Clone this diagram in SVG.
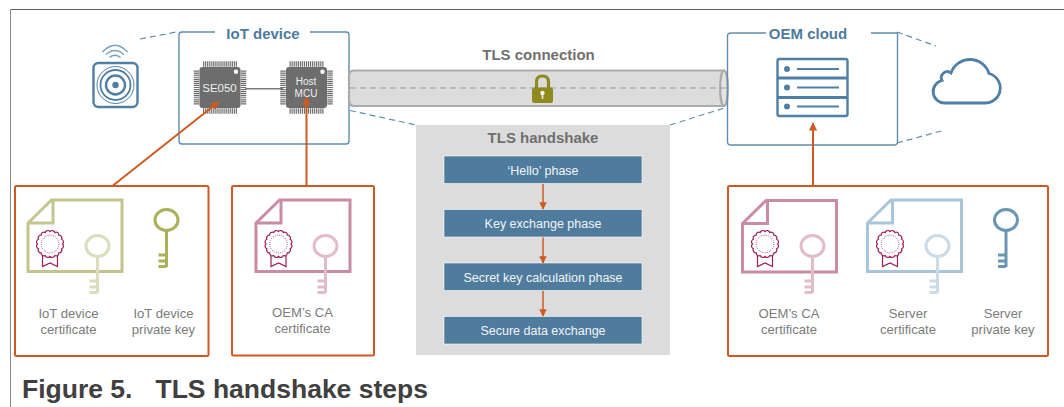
<svg xmlns="http://www.w3.org/2000/svg" width="1064" height="407" viewBox="0 0 1064 407">
<style>
text{font-family:"Liberation Sans",Arial,sans-serif}
.h{font-size:15px;font-weight:700;text-anchor:middle}
.blue{fill:#4f7b9d}
.gray{fill:#6f6f6f}
.lab{font-size:13.100px;fill:#7b7b7b;text-anchor:middle}
.step{font-size:12.500px;fill:#f2f5f8;text-anchor:middle}
.stepbox{fill:#4f7b9d;stroke:#fff;stroke-width:.6}
.ob{fill:#fff;stroke:#cf5a21;stroke-width:2}
.box{fill:none;stroke:#5f8dab;stroke-width:1.400}
.dash{fill:none;stroke:#5f8dab;stroke-width:1.200;stroke-dasharray:6 4}
.conn{fill:none;stroke:#cf5a21;stroke-width:2}
.thin{stroke-width:1.500}
.chip{fill:#6d6d6d}
.pin{stroke:#6d6d6d;stroke-width:5.500;stroke-dasharray:1.200 .85;fill:none}
.ct{fill:#f0f0f0;text-anchor:middle}
.cap{font-size:26.500px;font-weight:700;fill:#404040}
</style>
<defs>
<marker id="ah" viewBox="0 0 10 10" refX="9" refY="5" markerWidth="4.200" markerHeight="4.200" orient="auto"><path d="M0 0L10 5L0 10Z" fill="#cf5a21"/></marker>
<marker id="ahs" viewBox="0 0 10 10" refX="9" refY="5" markerWidth="5" markerHeight="5" orient="auto"><path d="M0 0L10 5L0 10Z" fill="#cf5a21"/></marker>
<g id="key" fill="none" stroke="currentColor" stroke-width="3">
<ellipse cx="0" cy="0" rx="11.500" ry="10.500"/>
<path d="M0 10.500V47M-8 35H0M-8 41H0M-8 46.500H0"/>
</g>
<g id="seal" fill="none" stroke="#9c1f57">
<path stroke-width="1.200" fill="#fff" d="M12.500 0A2.800 2.800 0 0 1 11.550 4.780A2.800 2.800 0 0 1 8.840 8.840A2.800 2.800 0 0 1 4.780 11.550A2.800 2.800 0 0 1 0 12.500A2.800 2.800 0 0 1 -4.780 11.550A2.800 2.800 0 0 1 -8.840 8.840A2.800 2.800 0 0 1 -11.550 4.780A2.800 2.800 0 0 1 -12.500 0A2.800 2.800 0 0 1 -11.550 -4.780A2.800 2.800 0 0 1 -8.840 -8.840A2.800 2.800 0 0 1 -4.780 -11.550A2.800 2.800 0 0 1 0 -12.500A2.800 2.800 0 0 1 4.780 -11.550A2.800 2.800 0 0 1 8.840 -8.840A2.800 2.800 0 0 1 11.550 -4.780A2.800 2.800 0 0 1 12.500 0Z"/>
<circle r="8.800" stroke-width=".8" stroke-dasharray="1 1.200"/>
<path stroke-width="1.200" d="M-7.500 12V22.500L0 19L7.500 22.500V12"/>
</g>
<g id="doc" fill="none" stroke="currentColor" stroke-width="3">
<path d="M0 23L23.500 0H94V71.500H0Z"/>
<path d="M0 23H25V0"/>
</g>
<g id="chip">
<rect x="-20.500" y="-20.500" width="41" height="41" rx="3" class="chip"/>
<path class="pin" d="M-17 -23.500H17M-17 23.500H17M-23.500 -17V17M23.500 -17V17"/>
<circle cx="16" cy="-15.800" r="2.200" fill="#fff"/>
</g>
</defs>
<rect width="1064" height="407" fill="#fff"/>
<g id="frame"><path d="M10.500 407V9.500" fill="none" stroke="#8a8a8a" stroke-width="1"/><path d="M10.500 9.500H1064" stroke="#5f5f5f" stroke-width="1"/></g>

<g id="dashed-guides">
<path class="dash" d="M140 39L179 31.500M350 110.500L416 125M670 125L726 107.500M897 32L936 46M897 143L945 130"/>
</g>

<g id="iot-icon" fill="none" stroke="#4f7fa5">
<rect x="93.500" y="63" width="44" height="44" rx="5" stroke-width="2.400"/>
<circle cx="115.500" cy="85" r="18.500" stroke-width="1"/>
<circle cx="115.500" cy="85" r="15" stroke-width="1.800"/>
<circle cx="115.500" cy="85" r="9.500" stroke-width="2.400"/>
<circle cx="115.500" cy="85" r="3.200" fill="#4f7fa5" stroke="none"/>
<path d="M102.500 52Q115 38.500 127.500 52" stroke-width="1.500" opacity=".75"/>
<path d="M106 54.500Q115 46.500 124 54.500" stroke-width="1.500" opacity=".75"/>
<path d="M109.500 57.500Q115 53 120.500 57.500" stroke-width="1.500" opacity=".75"/>
</g>

<g id="iot-device">
<path class="box" d="M215 32H182Q179 32 179 35V141Q179 144 182 144H346Q349 144 349 141V35Q349 32 346 32H310"/>
<text class="h blue" x="263" y="38.500">IoT device</text>
<path d="M245 88.700H283" stroke="#7d7d7d" stroke-width="1.400"/>
<g id="se050"><use href="#chip" x="220" y="87.500"/><text class="ct" x="219.500" y="92" font-size="11.500">SE050</text></g>
<g id="host-mcu"><use href="#chip" x="306.500" y="87.500"/><text class="ct" x="306" y="84.500" font-size="10">Host</text><text class="ct" x="306" y="96.700" font-size="10">MCU</text></g>
</g>

<g id="tls-connection">
<text class="h gray" x="538.500" y="60">TLS connection</text>
<path d="M354 70.500H724V106H354Q349 106 349 100V76Q349 70.500 354 70.500Z" fill="#dcdcdc" stroke="#ababab" stroke-width="2.200"/>
<ellipse cx="724" cy="88.300" rx="3.800" ry="17.800" fill="#e4e4e4" stroke="#ababab" stroke-width="2.200"/>
<path d="M350 88H728" fill="none" stroke="#8d9cab" stroke-width="1" stroke-dasharray="6 4"/>
<path d="M536.500 90V82Q536.500 76 542.500 76Q548.500 76 548.500 82V90" fill="none" stroke="#8f8a1e" stroke-width="3.200"/>
<rect x="532" y="87.500" width="21" height="15.500" rx="2.500" fill="#8f8a1e"/>
<circle cx="542.500" cy="93" r="2.200" fill="#f2f2f2"/><path d="M542.500 93V99" stroke="#f2f2f2" stroke-width="1.500"/>
</g>

<g id="oem-cloud">
<path class="box" d="M766 33H731Q727.500 33 727.500 36V142Q727.500 145 731 145H894Q897.500 145 897.500 142V33H871"/>
<text class="h blue" x="808" y="38.500">OEM cloud</text>
<g id="server" fill="none" stroke="#4f7fa5">
<rect x="777.500" y="59" width="70" height="57" rx="2" stroke-width="2.400"/>
<path d="M777.500 78H847.500M777.500 97.500H847.500" stroke-width="2.800"/>
<path d="M797 69H839M797 87.500H839M797 106.500H839" stroke-width="2.200"/>
<circle cx="787" cy="69" r="3" fill="#4f7fa5" stroke="none"/><circle cx="787" cy="87.500" r="3" fill="#4f7fa5" stroke="none"/><circle cx="787" cy="106.500" r="3" fill="#4f7fa5" stroke="none"/>
</g>
</g>

<g id="cloud-icon">
<path d="M945 103H986A15 15 0 0 0 989 73.500A20 20 0 0 0 951 73A6 6 0 0 0 942 80.500A11.400 11.400 0 0 0 945 103Z" fill="none" stroke="#4f7fa5" stroke-width="2.800"/>
</g>

<g id="tls-handshake">
<rect x="416" y="125" width="254" height="230" fill="#dcdcdc"/>
<text class="h gray" x="543" y="143">TLS handshake</text>
<g id="step-hello"><rect class="stepbox" x="444" y="156" width="198" height="27.500"/><text class="step" x="543" y="174.500">‘Hello’ phase</text></g>
<g id="step-key"><rect class="stepbox" x="444" y="209.500" width="198" height="27.500"/><text class="step" x="543" y="228">Key exchange phase</text></g>
<g id="step-secret"><rect class="stepbox" x="444" y="263" width="198" height="27.500"/><text class="step" x="543" y="281.500">Secret key calculation phase</text></g>
<g id="step-data"><rect class="stepbox" x="444" y="316.500" width="198" height="27.500"/><text class="step" x="543" y="335">Secure data exchange</text></g>
</g>

<g id="iot-credentials">
<rect class="ob" x="15" y="186" width="193.500" height="170" rx="1.500"/>
<use href="#doc" x="28" y="200" style="color:#c3c48e"/>
<use href="#seal" x="50" y="244"/>
<use href="#key" x="97.500" y="246" style="color:#dcddbd"/>
<use href="#key" x="166.500" y="220" style="color:#adb05a"/>
<text class="lab" x="68.500" y="318">IoT device</text><text class="lab" x="68.500" y="334">certificate</text>
<text class="lab" x="163.500" y="318">IoT device</text><text class="lab" x="163.500" y="334">private key</text>
</g>

<g id="host-credentials">
<rect class="ob" x="232" y="186" width="142" height="169.500" rx="1.500"/>
<use href="#doc" x="256" y="200" style="color:#c98ca5"/>
<use href="#seal" x="278.500" y="244"/>
<use href="#key" x="325.500" y="246" style="color:#e3bccb"/>
<text class="lab" x="302.500" y="317">OEM’s CA</text><text class="lab" x="302.500" y="333">certificate</text>
</g>

<g id="server-credentials">
<rect class="ob" x="728" y="186" width="320" height="170" rx="1.500"/>
<use href="#doc" x="742.500" y="200.500" style="color:#c98ca5"/>
<use href="#seal" x="765" y="244"/>
<use href="#key" x="812.500" y="246" style="color:#e3bccb"/>
<use href="#doc" x="867.500" y="200" style="color:#a9c5d9"/>
<use href="#seal" x="890" y="244"/>
<use href="#key" x="937.500" y="246" style="color:#cbdbe8"/>
<use href="#key" x="1006" y="220" style="color:#6a96b1"/>
<text class="lab" x="789" y="318">OEM’s CA</text><text class="lab" x="789" y="334">certificate</text>
<text class="lab" x="908" y="318">Server</text><text class="lab" x="908" y="334">certificate</text>
<text class="lab" x="1003" y="318">Server</text><text class="lab" x="1003" y="334">private key</text>
</g>

<g id="connectors">
<path class="conn" marker-end="url(#ah)" d="M113 185.500L218.500 102"/>
<path class="conn" marker-end="url(#ah)" d="M306.500 185.500V97.500"/>
<path class="conn" marker-end="url(#ah)" d="M813 185.500V123"/>
<path class="conn thin" marker-end="url(#ahs)" d="M543 184V209"/>
<path class="conn thin" marker-end="url(#ahs)" d="M543 237.500V263"/>
<path class="conn thin" marker-end="url(#ahs)" d="M543 291V316"/>
</g>

<g id="caption"><text class="cap" x="22" y="398">Figure 5.</text><text class="cap" x="155.500" y="398">TLS handshake steps</text></g>
</svg>
